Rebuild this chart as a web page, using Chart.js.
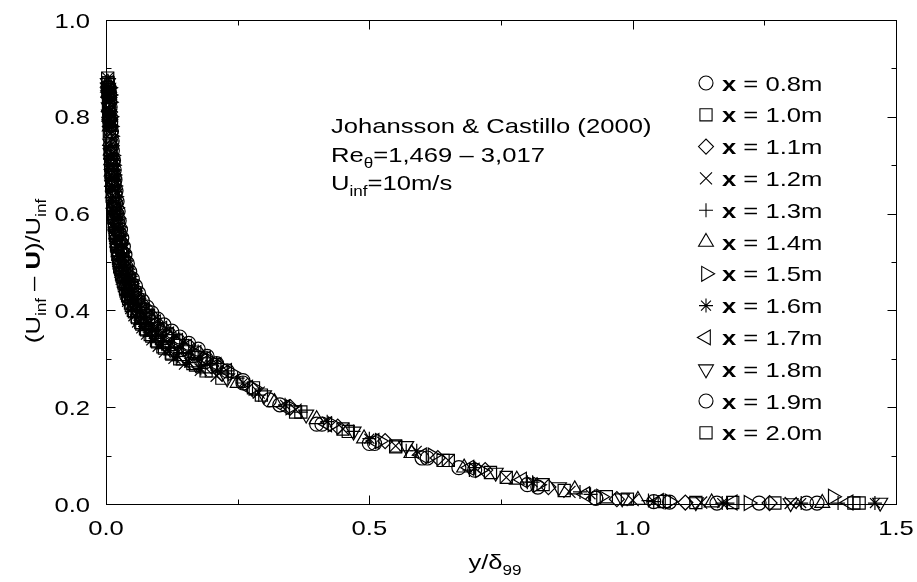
<!DOCTYPE html>
<html>
<head>
<meta charset="utf-8">
<script src="https://cdn.jsdelivr.net/npm/chart.js@4.4.1/dist/chart.umd.min.js"></script>
<style>
  html, body { margin: 0; padding: 0; background: #fff; }
  #wrap { width: 917px; height: 582px; }
</style>
</head>
<body>
<div id="wrap"><canvas id="c" width="917" height="582"></canvas></div>
<script>
// stations along the plate (m)
const stations = ["0.8", "1.0", "1.1", "1.2", "1.3", "1.4", "1.5", "1.6", "1.7", "1.8", "1.9", "2.0"];

// [y/delta99, (Uinf - U)/Uinf]
const p08 = [[0.006,0.86],[0.007,0.83],[0.008,0.80],[0.0095,0.77],[0.012,0.73],[0.014,0.68],[0.017,0.64],[0.020,0.60],[0.025,0.56],[0.031,0.52],[0.038,0.49],[0.048,0.455],[0.060,0.425],[0.076,0.40],[0.096,0.37],[0.12,0.35],[0.155,0.325],[0.19,0.30],[0.23,0.275],[0.26,0.25],[0.33,0.205],[0.41,0.165],[0.51,0.125],[0.61,0.095],[0.70,0.07],[0.82,0.035],[0.93,0.012],[1.04,0.005],[1.16,0.002],[1.33,0.002]];
const p10 = [[0.0035,0.87],[0.0043,0.85],[0.005,0.82],[0.006,0.79],[0.0077,0.75],[0.0094,0.70],[0.011,0.66],[0.0136,0.61],[0.016,0.575],[0.020,0.535],[0.025,0.50],[0.031,0.47],[0.038,0.44],[0.048,0.41],[0.060,0.385],[0.077,0.36],[0.098,0.335],[0.125,0.31],[0.165,0.29],[0.22,0.26],[0.295,0.225],[0.37,0.19],[0.46,0.15],[0.55,0.12],[0.64,0.09],[0.73,0.065],[0.83,0.04],[0.95,0.015],[1.06,0.005],[1.19,0.003],[1.42,0.002]];
const p11 = [[0.0055,0.86],[0.0066,0.84],[0.0077,0.81],[0.0088,0.78],[0.011,0.74],[0.013,0.69],[0.0155,0.65],[0.019,0.605],[0.023,0.565],[0.029,0.525],[0.035,0.49],[0.044,0.46],[0.055,0.43],[0.070,0.40],[0.09,0.375],[0.115,0.35],[0.148,0.32],[0.185,0.30],[0.22,0.27],[0.28,0.235],[0.35,0.20],[0.44,0.16],[0.53,0.13],[0.63,0.095],[0.72,0.07],[0.84,0.035],[0.97,0.01],[1.10,0.003],[1.26,0.002]];
const p12 = [[0.0035,0.88],[0.004,0.86],[0.0048,0.83],[0.0056,0.80],[0.0064,0.77],[0.008,0.72],[0.0096,0.68],[0.012,0.63],[0.0145,0.59],[0.0175,0.55],[0.0215,0.515],[0.027,0.48],[0.034,0.45],[0.042,0.42],[0.054,0.39],[0.069,0.365],[0.088,0.34],[0.112,0.315],[0.15,0.29],[0.21,0.265],[0.29,0.23],[0.36,0.195],[0.45,0.155],[0.55,0.12],[0.65,0.09],[0.76,0.055],[0.88,0.025],[1.00,0.008],[1.13,0.003],[1.30,0.002]];
const p13 = [[0.0063,0.85],[0.0075,0.82],[0.0088,0.79],[0.011,0.75],[0.014,0.71],[0.016,0.67],[0.020,0.62],[0.024,0.58],[0.029,0.545],[0.035,0.51],[0.044,0.475],[0.054,0.445],[0.068,0.415],[0.086,0.39],[0.11,0.36],[0.14,0.34],[0.175,0.315],[0.21,0.29],[0.25,0.26],[0.29,0.225],[0.37,0.19],[0.47,0.15],[0.57,0.11],[0.69,0.07],[0.80,0.045],[0.90,0.025],[1.03,0.007],[1.18,0.002],[1.39,0.002]];
const p14 = [[0.0036,0.87],[0.0045,0.85],[0.0054,0.82],[0.0072,0.78],[0.008,0.75],[0.010,0.71],[0.0117,0.665],[0.0144,0.62],[0.018,0.575],[0.0216,0.54],[0.027,0.50],[0.033,0.47],[0.041,0.44],[0.052,0.41],[0.067,0.38],[0.085,0.355],[0.108,0.33],[0.14,0.305],[0.19,0.28],[0.25,0.25],[0.32,0.21],[0.40,0.175],[0.49,0.135],[0.58,0.105],[0.68,0.075],[0.78,0.05],[0.89,0.03],[1.01,0.008],[1.15,0.003],[1.36,0.002]];
const p15 = [[0.0058,0.86],[0.0069,0.83],[0.008,0.80],[0.0092,0.76],[0.0115,0.72],[0.0138,0.68],[0.017,0.635],[0.021,0.59],[0.025,0.555],[0.031,0.52],[0.038,0.485],[0.047,0.455],[0.059,0.425],[0.075,0.395],[0.095,0.37],[0.122,0.345],[0.155,0.32],[0.20,0.295],[0.24,0.27],[0.28,0.24],[0.35,0.20],[0.43,0.165],[0.52,0.13],[0.62,0.10],[0.71,0.07],[0.82,0.04],[0.94,0.015],[1.07,0.005],[1.22,0.002],[1.38,0.015]];
const p16 = [[0.0034,0.86],[0.0043,0.84],[0.0051,0.81],[0.006,0.78],[0.0077,0.74],[0.0094,0.70],[0.012,0.65],[0.0145,0.605],[0.017,0.57],[0.021,0.53],[0.026,0.495],[0.032,0.465],[0.041,0.435],[0.051,0.405],[0.065,0.38],[0.083,0.355],[0.106,0.33],[0.136,0.305],[0.18,0.28],[0.26,0.25],[0.34,0.205],[0.42,0.17],[0.50,0.135],[0.59,0.11],[0.70,0.075],[0.81,0.045],[0.92,0.02],[1.04,0.005],[1.17,0.002],[1.32,0.002],[1.46,0.002]];
const p17 = [[0.006,0.87],[0.0072,0.84],[0.0084,0.81],[0.0096,0.78],[0.012,0.735],[0.0144,0.69],[0.017,0.645],[0.020,0.60],[0.025,0.56],[0.031,0.525],[0.038,0.49],[0.047,0.46],[0.059,0.43],[0.074,0.40],[0.095,0.375],[0.12,0.35],[0.154,0.325],[0.19,0.30],[0.23,0.275],[0.27,0.24],[0.34,0.20],[0.42,0.165],[0.51,0.13],[0.60,0.10],[0.69,0.075],[0.79,0.05],[0.91,0.02],[1.05,0.006],[1.19,0.003],[1.41,0.003]];
const p18 = [[0.0036,0.87],[0.0045,0.85],[0.0054,0.82],[0.0063,0.79],[0.008,0.745],[0.010,0.705],[0.0117,0.66],[0.0144,0.615],[0.017,0.58],[0.0207,0.545],[0.025,0.51],[0.0315,0.48],[0.039,0.45],[0.049,0.42],[0.062,0.39],[0.079,0.365],[0.10,0.34],[0.129,0.315],[0.17,0.29],[0.23,0.26],[0.30,0.225],[0.38,0.185],[0.47,0.15],[0.57,0.12],[0.74,0.065],[0.86,0.035],[0.98,0.012],[1.12,0.004],[1.30,0.002],[1.47,0.003]];
const p19 = [[0.0065,0.85],[0.0078,0.82],[0.009,0.79],[0.0117,0.75],[0.0143,0.71],[0.017,0.67],[0.021,0.625],[0.025,0.585],[0.030,0.55],[0.036,0.515],[0.045,0.48],[0.056,0.45],[0.069,0.42],[0.087,0.395],[0.11,0.37],[0.14,0.345],[0.175,0.32],[0.21,0.29],[0.26,0.255],[0.31,0.215],[0.40,0.165],[0.50,0.125],[0.60,0.095],[0.67,0.075],[0.80,0.04],[0.93,0.012],[1.07,0.004],[1.24,0.002],[1.35,0.002]];
const p20 = [[0.0032,0.88],[0.004,0.86],[0.0048,0.83],[0.0056,0.80],[0.0064,0.77],[0.008,0.725],[0.0096,0.685],[0.012,0.64],[0.0144,0.60],[0.0176,0.56],[0.0216,0.525],[0.026,0.49],[0.033,0.46],[0.041,0.43],[0.052,0.40],[0.066,0.375],[0.084,0.35],[0.108,0.325],[0.14,0.30],[0.20,0.275],[0.28,0.24],[0.36,0.19],[0.45,0.155],[0.55,0.118],[0.65,0.09],[0.76,0.055],[0.87,0.028],[0.99,0.01],[1.12,0.003],[1.27,0.002],[1.43,0.002]];

// extra probe positions close to the wall (dense band)
const e08 = [[0.0065,0.845],[0.0088,0.785],[0.013,0.705],[0.0155,0.66],[0.0185,0.62],[0.0225,0.58],[0.028,0.54],[0.034,0.505],[0.043,0.47],[0.054,0.44],[0.068,0.41],[0.086,0.385],[0.108,0.36],[0.137,0.337],[0.172,0.312],[0.21,0.287]];
const e10 = [[0.0039,0.86],[0.0055,0.805],[0.0085,0.725],[0.0102,0.68],[0.0123,0.635],[0.0148,0.592],[0.018,0.555],[0.0225,0.517],[0.028,0.485],[0.0345,0.455],[0.043,0.425],[0.054,0.397],[0.068,0.372],[0.087,0.347],[0.111,0.322],[0.145,0.30],[0.19,0.275]];
const e11 = [[0.006,0.85],[0.0082,0.795],[0.012,0.715],[0.0142,0.67],[0.017,0.627],[0.021,0.585],[0.026,0.545],[0.032,0.507],[0.039,0.475],[0.049,0.445],[0.062,0.415],[0.08,0.387],[0.102,0.362],[0.13,0.335],[0.165,0.31],[0.20,0.285]];
const e12 = [[0.0044,0.845],[0.006,0.785],[0.0088,0.70],[0.0108,0.655],[0.0132,0.61],[0.016,0.57],[0.0195,0.532],[0.024,0.497],[0.030,0.465],[0.038,0.435],[0.048,0.405],[0.061,0.377],[0.078,0.352],[0.10,0.327],[0.13,0.302],[0.18,0.277]];
const e13 = [[0.0069,0.835],[0.010,0.77],[0.015,0.69],[0.018,0.645],[0.022,0.60],[0.0265,0.562],[0.032,0.527],[0.039,0.492],[0.049,0.46],[0.061,0.43],[0.077,0.402],[0.098,0.375],[0.125,0.35],[0.157,0.327],[0.192,0.302],[0.23,0.275]];
const e14 = [[0.004,0.86],[0.0063,0.80],[0.009,0.73],[0.0108,0.687],[0.013,0.642],[0.016,0.597],[0.0198,0.557],[0.024,0.52],[0.030,0.485],[0.037,0.455],[0.046,0.425],[0.059,0.395],[0.076,0.367],[0.096,0.342],[0.124,0.317],[0.165,0.292]];
const e15 = [[0.0064,0.845],[0.0086,0.78],[0.0127,0.70],[0.0154,0.657],[0.019,0.612],[0.023,0.572],[0.028,0.537],[0.0345,0.502],[0.0425,0.47],[0.053,0.44],[0.067,0.41],[0.085,0.382],[0.108,0.357],[0.138,0.332],[0.177,0.307],[0.22,0.282]];
const e16 = [[0.0038,0.85],[0.0055,0.795],[0.0085,0.72],[0.0107,0.675],[0.013,0.627],[0.0157,0.587],[0.019,0.55],[0.0235,0.512],[0.029,0.48],[0.0365,0.45],[0.046,0.42],[0.058,0.392],[0.074,0.367],[0.094,0.342],[0.121,0.317],[0.158,0.292]];
const e17 = [[0.0066,0.855],[0.009,0.795],[0.0132,0.712],[0.0157,0.667],[0.0185,0.622],[0.0225,0.58],[0.028,0.542],[0.0345,0.507],[0.0425,0.475],[0.053,0.445],[0.066,0.415],[0.084,0.387],[0.107,0.362],[0.137,0.337],[0.172,0.312],[0.21,0.287]];
const e18 = [[0.004,0.86],[0.0058,0.805],[0.009,0.725],[0.0108,0.682],[0.013,0.637],[0.0157,0.597],[0.0188,0.562],[0.0228,0.527],[0.028,0.495],[0.035,0.465],[0.044,0.435],[0.055,0.405],[0.07,0.377],[0.089,0.352],[0.114,0.327],[0.15,0.302]];
const e19 = [[0.0071,0.835],[0.0104,0.77],[0.0156,0.69],[0.019,0.647],[0.023,0.605],[0.0275,0.567],[0.033,0.532],[0.0405,0.497],[0.05,0.465],[0.062,0.435],[0.078,0.407],[0.098,0.382],[0.125,0.357],[0.157,0.332],[0.192,0.305]];
const e20 = [[0.0036,0.87],[0.0052,0.815],[0.0088,0.705],[0.0108,0.662],[0.0132,0.62],[0.016,0.58],[0.0196,0.542],[0.0238,0.507],[0.0295,0.475],[0.037,0.445],[0.0465,0.415],[0.059,0.387],[0.075,0.362],[0.096,0.337],[0.124,0.312],[0.17,0.287]];

const profiles = [p08, p10, p11, p12, p13, p14, p15, p16, p17, p18, p19, p20];
const extras = [e08, e10, e11, e12, e13, e14, e15, e16, e17, e18, e19, e20];

// marker look per station
const markerStyle = ["circle", "rect", "rectRot", "crossRot", "cross", "triangle", "triangle", "star", "triangle", "triangle", "circle", "rect"];
const markerRot = [0, 0, 0, 0, 0, 0, 90, 0, -90, 180, 0, 0];
const markerSize = { circle: 7, rect: 8.6, rectRot: 7.5, crossRot: 8.5, cross: 7, triangle: 8.6, star: 7 };

const FONT = '"Liberation Sans", Arial, Helvetica, sans-serif';
const WIDE = 1.22;

function fontFor(p) {
  return (p.bold ? "bold " : "") + (p.sub ? 14 : 21) + "px " + FONT;
}

function partsWidth(ctx, parts) {
  let w = 0;
  parts.forEach(p => { ctx.font = fontFor(p); w += ctx.measureText(p.t).width * WIDE; });
  return w;
}

// draws a line of text with sub-scripts, starting on baseline y
function drawParts(ctx, parts, x, y, align) {
  const total = partsWidth(ctx, parts);
  let cx = x;
  if (align === "center") cx = x - total / 2;
  if (align === "right") cx = x - total;
  ctx.textAlign = "left";
  ctx.textBaseline = "alphabetic";
  ctx.fillStyle = "#000";
  parts.forEach(p => {
    ctx.font = fontFor(p);
    const w = ctx.measureText(p.t).width * WIDE;
    ctx.save();
    ctx.translate(cx, y + (p.sub ? 6 : 0));
    ctx.scale(WIDE, 1);
    ctx.fillText(p.t, 0, 0);
    ctx.restore();
    cx += w;
  });
}

const decorPlugin = {
  id: "decor",
  afterDatasetsDraw(chart) {
    const ctx = chart.ctx;
    const xs = chart.scales.x, ys = chart.scales.y;
    const a = chart.chartArea;
    const L = Math.round(a.left) + 0.5, R = Math.round(a.right) + 0.5;
    const T = Math.round(a.top) + 0.5, B = Math.round(a.bottom) + 0.5;

    ctx.save();
    ctx.strokeStyle = "#000";
    ctx.lineWidth = 1;
    ctx.strokeRect(L, T, R - L, B - T);

    // inward ticks on all four sides
    ctx.beginPath();
    xs.ticks.forEach(t => {
      const px = Math.round(xs.getPixelForValue(t.value)) + 0.5;
      const major = Math.abs(Math.round(t.value * 2) - t.value * 2) < 1e-6;
      const len = major ? 9 : 5;
      ctx.moveTo(px, B); ctx.lineTo(px, B - len);
      ctx.moveTo(px, T); ctx.lineTo(px, T + len);
    });
    ys.ticks.forEach(t => {
      const py = Math.round(ys.getPixelForValue(t.value)) + 0.5;
      const major = Math.round(t.value * 10) % 2 === 0;
      const len = major ? 9 : 5;
      ctx.moveTo(L, py); ctx.lineTo(L + len, py);
      ctx.moveTo(R, py); ctx.lineTo(R - len, py);
    });
    ctx.stroke();

    // tick labels
    xs.ticks.forEach(t => {
      if (Math.abs(Math.round(t.value * 2) - t.value * 2) > 1e-6) return;
      drawParts(ctx, [{ t: t.value.toFixed(1) }], xs.getPixelForValue(t.value), a.bottom + 31, "center");
    });
    ys.ticks.forEach(t => {
      if (Math.round(t.value * 10) % 2 !== 0) return;
      drawParts(ctx, [{ t: t.value.toFixed(1) }], a.left - 16, ys.getPixelForValue(t.value) + 7.5, "right");
    });

    // axis titles
    drawParts(ctx, [{ t: "y/δ" }, { t: "99", sub: true }], 495, 569, "center");
    ctx.save();
    ctx.translate(40, 271);
    ctx.rotate(-Math.PI / 2);
    drawParts(ctx, [{ t: "(U" }, { t: "inf", sub: true }, { t: " – " }, { t: "U", bold: true },
                    { t: ")/U" }, { t: "inf", sub: true }], 0, 0, "center");
    ctx.restore();

    // annotation
    drawParts(ctx, [{ t: "Johansson & Castillo (2000)" }], 331, 133, "left");
    drawParts(ctx, [{ t: "Re" }, { t: "θ", sub: true }, { t: "=1,469 – 3,017" }], 331, 162, "left");
    drawParts(ctx, [{ t: "U" }, { t: "inf", sub: true }, { t: "=10m/s" }], 331, 190, "left");

    // legend
    chart.data.datasets.forEach((ds, i) => {
      const yc = 83 + i * 31.8;
      ctx.strokeStyle = "#000";
      ctx.fillStyle = "rgba(0,0,0,0)";
      ctx.lineWidth = 1.1;
      if (Chart.helpers && Chart.helpers.drawPoint) {
        Chart.helpers.drawPoint(ctx, {
          pointStyle: ds.pointStyle, rotation: ds.pointRotation,
          radius: ds.pointRadius, borderWidth: 1.1
        }, 706, yc);
      }
      drawParts(ctx, [{ t: "x", bold: true }, { t: " = " + stations[i] + "m" }], 722, yc + 7.5, "left");
    });
    ctx.restore();
  }
};

const datasets = profiles.map((pts, i) => ({
  label: "x = " + stations[i] + "m",
  data: pts.concat(extras[i]).map(p => ({ x: p[0], y: p[1] })),
  showLine: false,
  pointStyle: markerStyle[i],
  pointRotation: markerRot[i],
  pointRadius: markerSize[markerStyle[i]],
  pointHoverRadius: markerSize[markerStyle[i]],
  pointBorderWidth: 1.2,
  pointBorderColor: "#000",
  pointBackgroundColor: "rgba(0,0,0,0)",
  clip: false
}));

new Chart(document.getElementById("c"), {
  type: "scatter",
  data: { datasets: datasets },
  options: {
    responsive: false,
    animation: false,
    devicePixelRatio: 1,
    layout: { padding: { top: 20, right: 21, left: 0, bottom: 0 } },
    plugins: { legend: { display: false }, tooltip: { enabled: false } },
    scales: {
      x: {
        type: "linear", min: 0, max: 1.5,
        ticks: { stepSize: 0.25, display: false },
        grid: { display: false }, border: { display: false },
        afterFit(s) { s.height = 78; }
      },
      y: {
        type: "linear", min: 0, max: 1.0,
        ticks: { stepSize: 0.1, display: false },
        grid: { display: false }, border: { display: false },
        afterFit(s) { s.width = 106; }
      }
    }
  },
  plugins: [decorPlugin]
});
</script>
</body>
</html>
